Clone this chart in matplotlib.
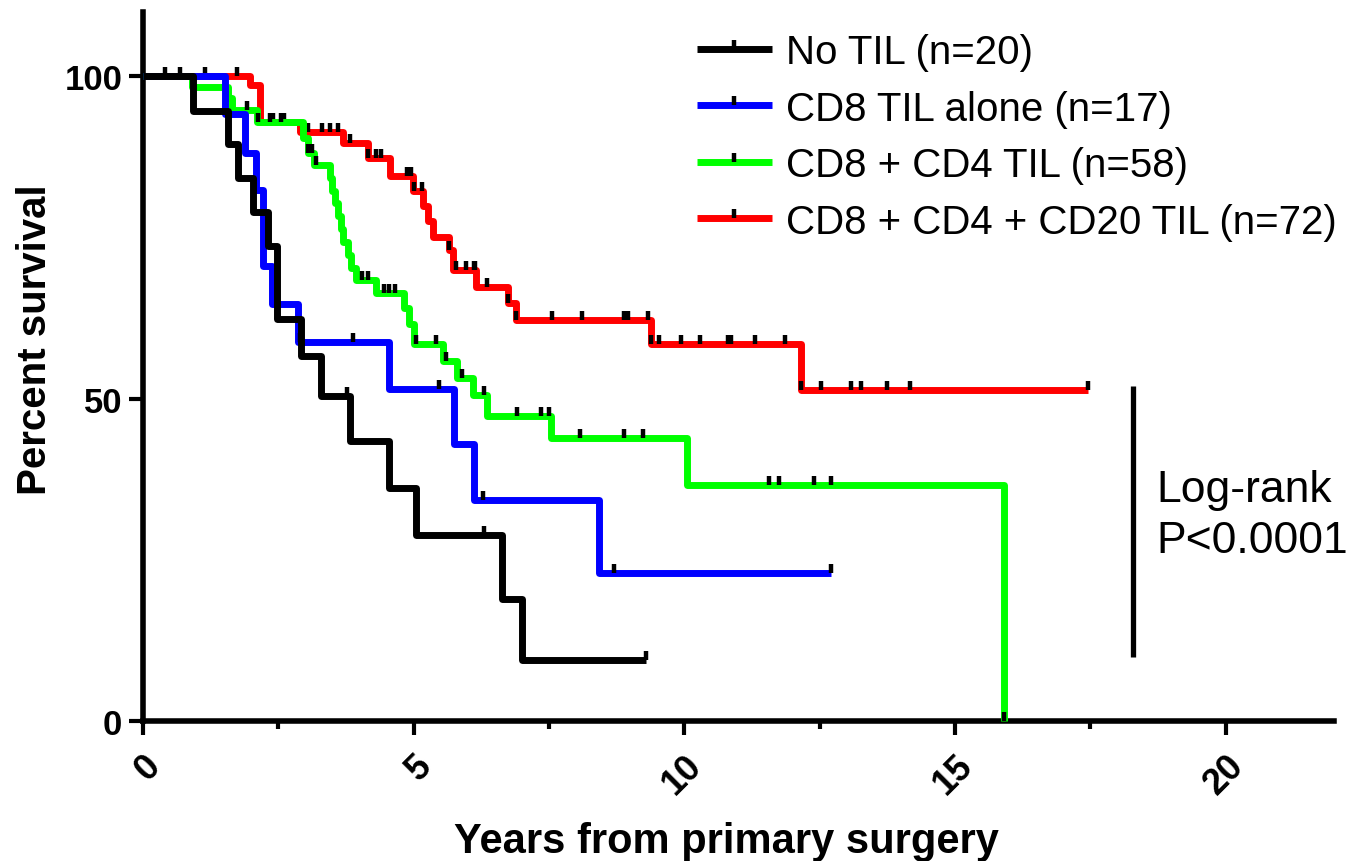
import numpy as np
import matplotlib
matplotlib.use("Agg")
import matplotlib.pyplot as plt
from matplotlib.path import Path
from matplotlib.lines import Line2D

plt.rcParams['font.family'] = ['Liberation Sans', 'DejaVu Sans']

# Kaplan-Meier steps: (years, percent surviving after the step)
black_t = [0, 0.93, 1.57, 1.76, 2.04, 2.31, 2.48, 2.91, 3.28, 3.83, 4.54, 5.05, 6.63, 7.0, 9.3]
black_s = [100, 94.7, 89.5, 84.2, 78.9, 73.7, 62.3, 56.7, 50.4, 43.4, 36.1, 28.8, 19.0, 9.5, 9.5]
black_cens = [0.4, 2.48, 3.76, 6.3, 9.3]

blue_t = [0, 1.52, 1.89, 2.09, 2.22, 2.39, 2.87, 4.54, 5.74, 6.11, 8.43, 12.7]
blue_s = [100, 94.1, 88.2, 82.4, 70.6, 64.7, 58.8, 51.5, 42.9, 34.3, 22.9, 22.9]
blue_cens = [2.9, 3.87, 5.46, 6.28, 8.7, 12.7]

green_t = [0, 0.9, 1.57, 1.65, 2.1, 2.95, 3.05, 3.15, 3.45, 3.5, 3.55, 3.6, 3.65, 3.7,
           3.78, 3.85, 3.93, 4.3, 4.82, 4.92, 5.0, 5.55, 5.8, 6.1, 6.35, 7.54, 10.04, 15.9]
green_s = [100, 98.3, 96.6, 94.8, 92.9, 90.5, 88.2, 86.2, 84.3, 82.3, 80.3, 78.3, 76.3, 74.3,
           72.3, 70.3, 68.4, 66.4, 64.0, 61.6, 58.5, 55.9, 53.2, 50.6, 47.3, 43.9, 36.6, 0]
green_cens = [1.93, 2.13, 2.35, 2.55, 3.05, 3.13, 3.2, 4.05, 4.15, 4.45, 4.55, 4.65, 5.05,
              5.42, 5.6, 5.9, 6.3, 6.9, 7.35, 7.5, 8.07, 8.89, 9.24, 11.56, 11.74, 12.39,
              12.7, 15.9]

red_t = [0, 1.98, 2.17, 2.9, 3.7, 4.15, 4.57, 4.98, 5.17, 5.26, 5.35, 5.65, 5.72, 6.15,
         6.74, 6.89, 9.38, 12.15, 17.46]
red_s = [100, 98.6, 93.0, 91.4, 89.6, 87.4, 84.6, 82.2, 79.9, 77.5, 75.1, 73.0, 70.0, 67.4,
         64.8, 62.2, 58.5, 51.3, 51.3]
red_cens = [0.69, 1.15, 1.74, 2.4, 2.6, 3.05, 3.3, 3.45, 3.6, 3.83, 4.15, 4.3, 4.4, 4.88,
            4.95, 5.0, 5.15, 5.65, 5.78, 5.96, 6.11, 6.13, 6.35, 6.74, 6.89, 7.56, 8.11,
            8.89, 8.96, 9.33, 9.39, 9.54, 9.93, 10.28, 10.8, 10.87, 11.3, 11.85, 12.15,
            12.52, 13.07, 13.26, 13.74, 14.17, 17.46]

labels = ['No TIL (n=20)', 'CD8 TIL alone (n=17)', 'CD8 + CD4 TIL (n=58)',
          'CD8 + CD4 + CD20 TIL (n=72)']
colors = ['#000000', '#0000ff', '#00ff00', '#ff0000']

# censor tick pointing up from the line
censor = Path([(0, 0), (0, 1)], [Path.MOVETO, Path.LINETO])


def level_at(t, s, tc):
    idx = np.searchsorted(t, tc, side='right') - 1
    return np.asarray(s)[idx]


fig = plt.figure(figsize=(13.52, 8.62), dpi=100)
ax = fig.add_axes([143 / 1352, 1 - 722 / 862, 1191 / 1352, 709 / 862])

groups = [(black_t, black_s, black_cens), (blue_t, blue_s, blue_cens),
          (green_t, green_s, green_cens), (red_t, red_s, red_cens)]
zorders = [8, 6, 4, 2]
for (t, s, cens), c, z in zip(groups, colors, zorders):
    ax.step(t, s, where='post', color=c, lw=5, zorder=z, clip_on=False,
            solid_joinstyle='round', solid_capstyle='butt')
    ax.plot(cens, level_at(t, s, cens), ls='none', marker=censor, ms=13,
            mec='k', mew=3.2, zorder=z + 1, clip_on=False)

ax.set_xlim(0, 22)
ax.set_ylim(0, 110)
ax.set_xticks([0, 5, 10, 15, 20])
ax.set_xticks([2.5, 7.5, 12.5, 17.5], minor=True)
ax.set_yticks([0, 50, 100])
for side in ['top', 'right']:
    ax.spines[side].set_visible(False)
for side in ['left', 'bottom']:
    ax.spines[side].set_linewidth(4)
ax.tick_params(which='major', length=10, width=3, pad=5, labelsize=25)
ax.tick_params(axis='x', which='major', pad=9, labelsize=26)
ax.tick_params(which='minor', length=5.5, width=3)
for lab in ax.get_yticklabels():
    lab.set_fontweight('bold')
for lab in ax.get_xticklabels():
    lab.set_fontweight('bold')
    lab.set_rotation(45)
    lab.set_ha('right')
    lab.set_va('top')
    lab.set_rotation_mode('anchor')

fig.text(35 / 1352, 1 - 340 / 862, 'Percent survival', rotation=90, ha='center',
         va='center', fontsize=29, fontweight='bold')
fig.text(726 / 1352, 1 - 842 / 862, 'Years from primary surgery', ha='center',
         va='center', fontsize=30, fontweight='bold')

# log-rank bar and text
ax.plot([18.28, 18.28], [10, 52], color='k', lw=3.8, clip_on=False, solid_capstyle='butt')
ax.text(18.72, 32, 'Log-rank\nP<0.0001', ha='left', va='center', fontsize=32,
        linespacing=1.3)

handles = [Line2D([0], [0], color=c, lw=5, marker=censor, ms=13, mec='k', mew=3.2,
                  solid_capstyle='butt') for c in colors]
fig.legend(handles, labels, loc='upper left', bbox_to_anchor=(697 / 1352, 1 - 34 / 862),
           frameon=False, fontsize=29, handlelength=1.85, handletextpad=0.35,
           labelspacing=0.46, borderpad=0, borderaxespad=0, numpoints=1)

fig.savefig('out.png', dpi=100)
